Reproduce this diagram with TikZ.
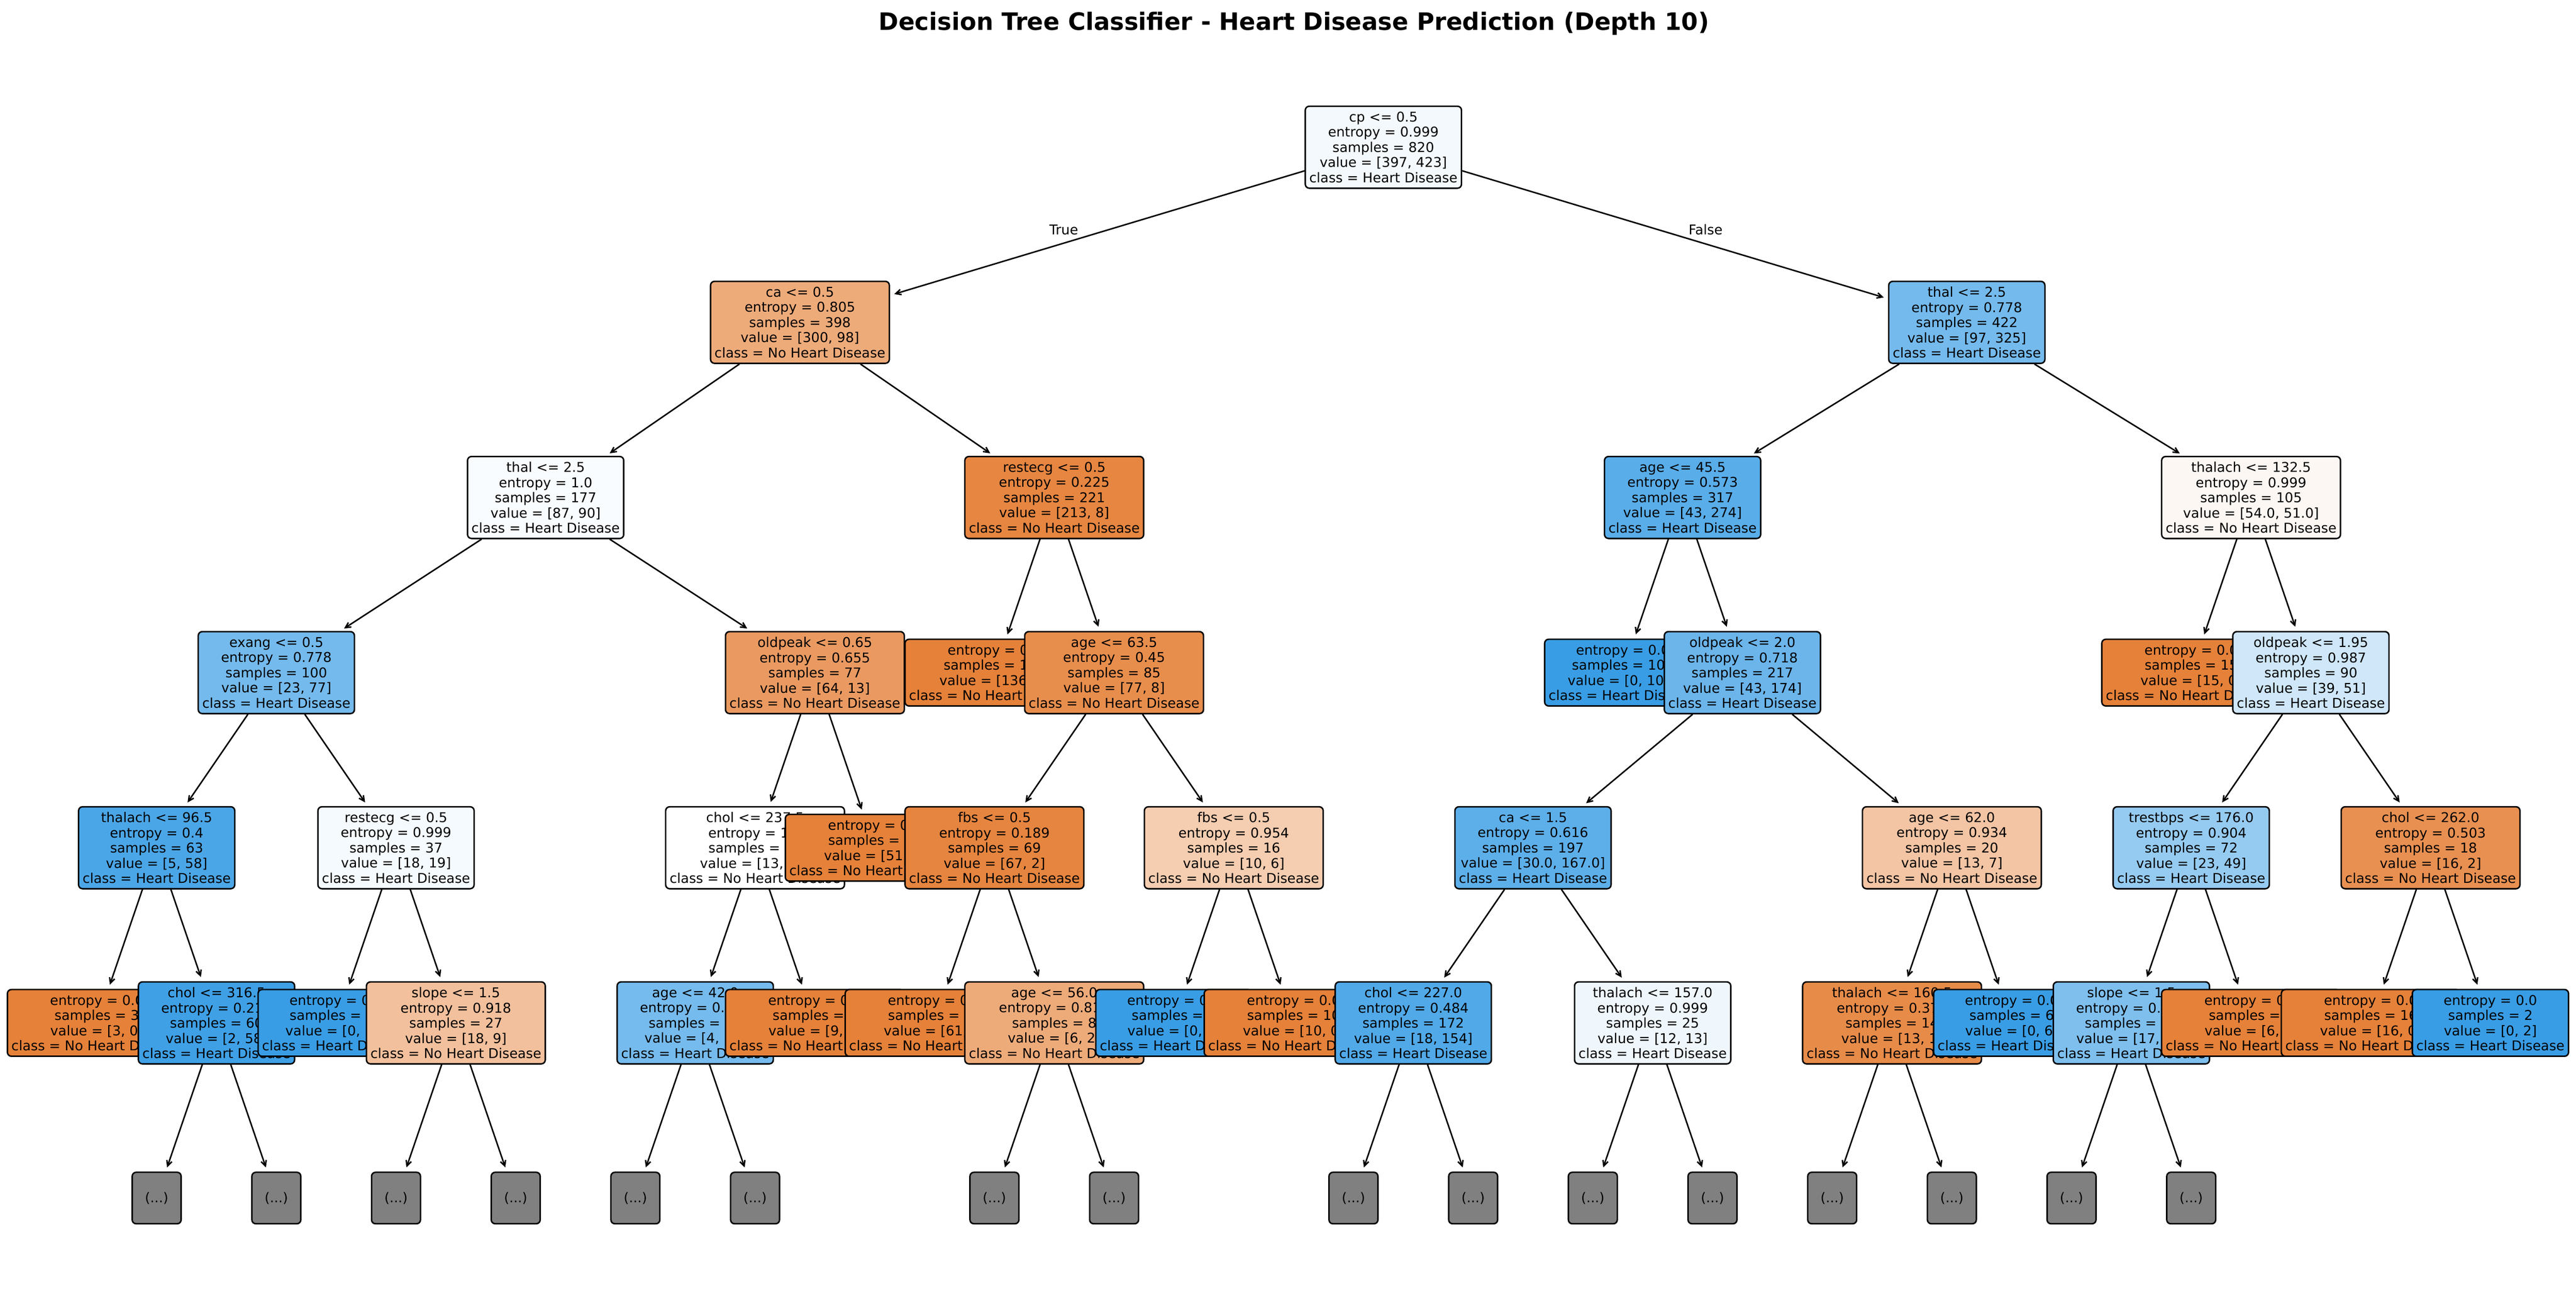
\documentclass[tikz,border=0pt]{standalone}
\usepackage{fontspec}
\setmainfont{DejaVu Sans}
\usetikzlibrary{arrows.meta}

\definecolor{noHD}{RGB}{229,129,57}
\definecolor{yesHD}{RGB}{57,157,229}
\definecolor{moreGray}{RGB}{128,128,128}
\newcommand{\dtfont}{\fontsize{10.58pt}{11.92pt}\selectfont}
\newcommand{\dttitlefont}{\fontsize{18.8pt}{22pt}\selectfont\bfseries}

\begin{document}
\begin{tikzpicture}[x=1.65cm, y=4.83cm]
\useasboundingbox (-1.02cm,4.06cm) rectangle (70.01cm,-31.68cm);

\node[font=\dttitlefont, anchor=base] (title) at (34.66cm,3.23cm) {Decision Tree Classifier - Heart Disease Prediction (Depth 10)};

\begin{scope}[every node/.style={draw, line width=1.15pt, rounded corners=0.11cm, align=center, font=\dtfont, inner xsep=0.11cm, inner ysep=0pt},
              splitbox/.style={minimum height=2.26cm},
              leafbox/.style={minimum height=1.84cm},
              morebox/.style={fill=moreGray, minimum height=1.42cm, minimum width=1.35cm}]
    % drawn in the order of the tree walk, later boxes lie on top
    \node[splitbox, fill=yesHD!6!white] (root) at (22.5,0) {cp <= 0.5\\entropy = 0.999\\samples = 820\\value = [397, 423]\\class = Heart Disease};
    \node[splitbox, fill=noHD!67!white] (caA) at (12.75,-1) {ca <= 0.5\\entropy = 0.805\\samples = 398\\value = [300, 98]\\class = No Heart Disease};
    \node[splitbox, fill=yesHD!3!white] (thalA) at (8.5,-2) {thal <= 2.5\\entropy = 1.0\\samples = 177\\value = [87, 90]\\class = Heart Disease};
    \node[splitbox, fill=yesHD!70!white] (exang) at (4,-3) {exang <= 0.5\\entropy = 0.778\\samples = 100\\value = [23, 77]\\class = Heart Disease};
    \node[splitbox, fill=yesHD!91!white] (thalachB) at (2,-4) {thalach <= 96.5\\entropy = 0.4\\samples = 63\\value = [5, 58]\\class = Heart Disease};
    \node[leafbox, fill=noHD] (leafE) at (1,-5) {entropy = 0.0\\samples = 3\\value = [3, 0]\\class = No Heart Disease};
    \node[splitbox, fill=yesHD!97!white] (cholC) at (3,-5) {chol <= 316.5\\entropy = 0.211\\samples = 60\\value = [2, 58]\\class = Heart Disease};
    \node[morebox] (d2) at (2,-6) {(...)};
    \node[morebox] (d4) at (4,-6) {(...)};
    \node[splitbox, fill=yesHD!5!white] (restecgB) at (6,-4) {restecg <= 0.5\\entropy = 0.999\\samples = 37\\value = [18, 19]\\class = Heart Disease};
    \node[leafbox, fill=yesHD] (leafF) at (5,-5) {entropy = 0.0\\samples = 10\\value = [0, 10]\\class = Heart Disease};
    \node[splitbox, fill=noHD!50!white] (slopeA) at (7,-5) {slope <= 1.5\\entropy = 0.918\\samples = 27\\value = [18, 9]\\class = No Heart Disease};
    \node[morebox] (d6) at (6,-6) {(...)};
    \node[morebox] (d8) at (8,-6) {(...)};
    \node[splitbox, fill=noHD!80!white] (oldpeakA) at (13,-3) {oldpeak <= 0.65\\entropy = 0.655\\samples = 77\\value = [64, 13]\\class = No Heart Disease};
    \node[splitbox, fill=white] (cholA) at (12,-4) {chol <= 237.5\\entropy = 1.0\\samples = 26\\value = [13, 13]\\class = No Heart Disease};
    \node[splitbox, fill=yesHD!69!white] (ageD) at (11,-5) {age <= 42.0\\entropy = 0.787\\samples = 17\\value = [4, 13]\\class = Heart Disease};
    \node[morebox] (d10) at (10,-6) {(...)};
    \node[morebox] (d12) at (12,-6) {(...)};
    \node[leafbox, fill=noHD] (leafG) at (13,-5) {entropy = 0.0\\samples = 9\\value = [9, 0]\\class = No Heart Disease};
    \node[leafbox, fill=noHD] (leafD) at (14,-4) {entropy = 0.0\\samples = 51\\value = [51, 0]\\class = No Heart Disease};
    \node[splitbox, fill=noHD!96!white] (restecgA) at (17,-2) {restecg <= 0.5\\entropy = 0.225\\samples = 221\\value = [213, 8]\\class = No Heart Disease};
    \node[leafbox, fill=noHD] (leafA) at (16,-3) {entropy = 0.0\\samples = 136\\value = [136, 0]\\class = No Heart Disease};
    \node[splitbox, fill=noHD!90!white] (ageB) at (18,-3) {age <= 63.5\\entropy = 0.45\\samples = 85\\value = [77, 8]\\class = No Heart Disease};
    \node[splitbox, fill=noHD!97!white] (fbsA) at (16,-4) {fbs <= 0.5\\entropy = 0.189\\samples = 69\\value = [67, 2]\\class = No Heart Disease};
    \node[leafbox, fill=noHD] (leafH) at (15,-5) {entropy = 0.0\\samples = 61\\value = [61, 0]\\class = No Heart Disease};
    \node[splitbox, fill=noHD!67!white] (ageE) at (17,-5) {age <= 56.0\\entropy = 0.811\\samples = 8\\value = [6, 2]\\class = No Heart Disease};
    \node[morebox] (d16) at (16,-6) {(...)};
    \node[morebox] (d18) at (18,-6) {(...)};
    \node[splitbox, fill=noHD!40!white] (fbsB) at (20,-4) {fbs <= 0.5\\entropy = 0.954\\samples = 16\\value = [10, 6]\\class = No Heart Disease};
    \node[leafbox, fill=yesHD] (leafI) at (19,-5) {entropy = 0.0\\samples = 6\\value = [0, 6]\\class = Heart Disease};
    \node[leafbox, fill=noHD] (leafJ) at (21,-5) {entropy = 0.0\\samples = 10\\value = [10, 0]\\class = No Heart Disease};
    \node[splitbox, fill=yesHD!70!white] (thalB) at (32.25,-1) {thal <= 2.5\\entropy = 0.778\\samples = 422\\value = [97, 325]\\class = Heart Disease};
    \node[splitbox, fill=yesHD!84!white] (ageA) at (27.5,-2) {age <= 45.5\\entropy = 0.573\\samples = 317\\value = [43, 274]\\class = Heart Disease};
    \node[leafbox, fill=yesHD] (leafB) at (26.5,-3) {entropy = 0.0\\samples = 100\\value = [0, 100]\\class = Heart Disease};
    \node[splitbox, fill=yesHD!75!white] (oldpeakB) at (28.5,-3) {oldpeak <= 2.0\\entropy = 0.718\\samples = 217\\value = [43, 174]\\class = Heart Disease};
    \node[splitbox, fill=yesHD!82!white] (caB) at (25,-4) {ca <= 1.5\\entropy = 0.616\\samples = 197\\value = [30.0, 167.0]\\class = Heart Disease};
    \node[splitbox, fill=yesHD!88!white] (cholD) at (23,-5) {chol <= 227.0\\entropy = 0.484\\samples = 172\\value = [18, 154]\\class = Heart Disease};
    \node[morebox] (d22) at (22,-6) {(...)};
    \node[morebox] (d24) at (24,-6) {(...)};
    \node[splitbox, fill=yesHD!8!white] (thalachC) at (27,-5) {thalach <= 157.0\\entropy = 0.999\\samples = 25\\value = [12, 13]\\class = Heart Disease};
    \node[morebox] (d26) at (26,-6) {(...)};
    \node[morebox] (d28) at (28,-6) {(...)};
    \node[splitbox, fill=noHD!46!white] (ageC) at (32,-4) {age <= 62.0\\entropy = 0.934\\samples = 20\\value = [13, 7]\\class = No Heart Disease};
    \node[splitbox, fill=noHD!92!white] (thalachD) at (31,-5) {thalach <= 160.5\\entropy = 0.371\\samples = 14\\value = [13, 1]\\class = No Heart Disease};
    \node[morebox] (d30) at (30,-6) {(...)};
    \node[morebox] (d32) at (32,-6) {(...)};
    \node[leafbox, fill=yesHD] (leafK) at (33,-5) {entropy = 0.0\\samples = 6\\value = [0, 6]\\class = Heart Disease};
    \node[splitbox, fill=noHD!6!white] (thalachA) at (37,-2) {thalach <= 132.5\\entropy = 0.999\\samples = 105\\value = [54.0, 51.0]\\class = No Heart Disease};
    \node[leafbox, fill=noHD] (leafC) at (36,-3) {entropy = 0.0\\samples = 15\\value = [15, 0]\\class = No Heart Disease};
    \node[splitbox, fill=yesHD!24!white] (oldpeakC) at (38,-3) {oldpeak <= 1.95\\entropy = 0.987\\samples = 90\\value = [39, 51]\\class = Heart Disease};
    \node[splitbox, fill=yesHD!53!white] (trestbps) at (36,-4) {trestbps <= 176.0\\entropy = 0.904\\samples = 72\\value = [23, 49]\\class = Heart Disease};
    \node[splitbox, fill=yesHD!65!white] (slopeB) at (35,-5) {slope <= 1.5\\entropy = 0.823\\samples = 66\\value = [17, 49]\\class = Heart Disease};
    \node[morebox] (d34) at (34,-6) {(...)};
    \node[morebox] (d36) at (36,-6) {(...)};
    \node[leafbox, fill=noHD] (leafL) at (37,-5) {entropy = 0.0\\samples = 6\\value = [6, 0]\\class = No Heart Disease};
    \node[splitbox, fill=noHD!88!white] (cholB) at (40,-4) {chol <= 262.0\\entropy = 0.503\\samples = 18\\value = [16, 2]\\class = No Heart Disease};
    \node[leafbox, fill=noHD] (leafM) at (39,-5) {entropy = 0.0\\samples = 16\\value = [16, 0]\\class = No Heart Disease};
    \node[leafbox, fill=yesHD] (leafN) at (41,-5) {entropy = 0.0\\samples = 2\\value = [0, 2]\\class = Heart Disease};
\end{scope}

\path (root.center) -- (caA.center) node[midway, anchor=base east, xshift=-0.25cm, font=\dtfont] (lblTrue) {True};
\path (root.center) -- (thalB.center) node[midway, anchor=base west, xshift=0.25cm, font=\dtfont] (lblFalse) {False};

\begin{scope}[>={Straight Barb[length=4.2pt,width=4.2pt]},
              every edge/.style={draw, line width=1.15pt, shorten >=0.12cm}]
    \path [->] (root) edge (caA);
    \path [->] (root) edge (thalB);
    \path [->] (caA) edge (thalA);
    \path [->] (caA) edge (restecgA);
    \path [->] (thalA) edge (exang);
    \path [->] (thalA) edge (oldpeakA);
    \path [->] (exang) edge (thalachB);
    \path [->] (exang) edge (restecgB);
    \path [->] (thalachB) edge (leafE);
    \path [->] (thalachB) edge (cholC);
    \path [->] (cholC) edge (d2);
    \path [->] (cholC) edge (d4);
    \path [->] (restecgB) edge (leafF);
    \path [->] (restecgB) edge (slopeA);
    \path [->] (slopeA) edge (d6);
    \path [->] (slopeA) edge (d8);
    \path [->] (oldpeakA) edge (cholA);
    \path [->] (oldpeakA) edge (leafD);
    \path [->] (cholA) edge (ageD);
    \path [->] (cholA) edge (leafG);
    \path [->] (ageD) edge (d10);
    \path [->] (ageD) edge (d12);
    \path [->] (restecgA) edge (leafA);
    \path [->] (restecgA) edge (ageB);
    \path [->] (ageB) edge (fbsA);
    \path [->] (ageB) edge (fbsB);
    \path [->] (fbsA) edge (leafH);
    \path [->] (fbsA) edge (ageE);
    \path [->] (ageE) edge (d16);
    \path [->] (ageE) edge (d18);
    \path [->] (fbsB) edge (leafI);
    \path [->] (fbsB) edge (leafJ);
    \path [->] (thalB) edge (ageA);
    \path [->] (thalB) edge (thalachA);
    \path [->] (ageA) edge (leafB);
    \path [->] (ageA) edge (oldpeakB);
    \path [->] (oldpeakB) edge (caB);
    \path [->] (oldpeakB) edge (ageC);
    \path [->] (caB) edge (cholD);
    \path [->] (caB) edge (thalachC);
    \path [->] (cholD) edge (d22);
    \path [->] (cholD) edge (d24);
    \path [->] (thalachC) edge (d26);
    \path [->] (thalachC) edge (d28);
    \path [->] (ageC) edge (thalachD);
    \path [->] (ageC) edge (leafK);
    \path [->] (thalachD) edge (d30);
    \path [->] (thalachD) edge (d32);
    \path [->] (thalachA) edge (leafC);
    \path [->] (thalachA) edge (oldpeakC);
    \path [->] (oldpeakC) edge (trestbps);
    \path [->] (oldpeakC) edge (cholB);
    \path [->] (trestbps) edge (slopeB);
    \path [->] (trestbps) edge (leafL);
    \path [->] (slopeB) edge (d34);
    \path [->] (slopeB) edge (d36);
    \path [->] (cholB) edge (leafM);
    \path [->] (cholB) edge (leafN);
\end{scope}
\end{tikzpicture}
\end{document}
